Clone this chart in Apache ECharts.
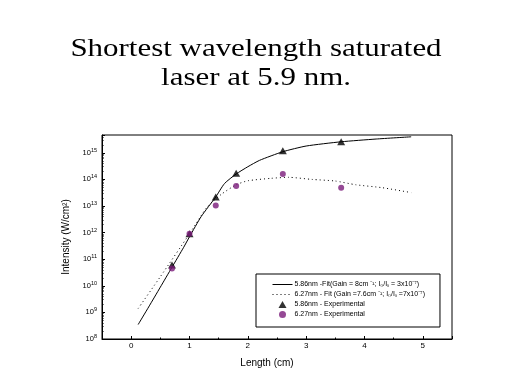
<!DOCTYPE html>
<html>
<head>
<meta charset="utf-8">
<script src="https://cdn.jsdelivr.net/npm/echarts@6/dist/echarts.min.js"></script>
<style>
html,body{margin:0;padding:0;background:#fff;}
#c{width:512px;height:384px;}
</style>
</head>
<body>
<div id="c"></div>
<script>
// ---- data ----
var fit1X = [0.12, 0.3, 0.5, 0.7, 0.9, 1.0, 1.2, 1.45, 1.6, 1.8, 2.0, 2.2, 2.6, 3.0, 3.6, 4.2, 4.8];
var fit1Y = [3.5e8, 1.6e9, 8.9e9, 5e10, 2.8e11, 7e11, 4e12, 2.2e13, 7e13, 1.6e14, 3e14, 5.2e14, 1.1e15, 1.8e15, 2.6e15, 3.3e15, 4e15];
var fit2X = [0.12, 0.5, 1.0, 1.3, 1.55, 1.8, 2.0, 2.4, 2.7, 3.1, 3.5, 3.85, 4.3, 4.8];
var fit2Y = [1.4e9, 2.2e10, 9e11, 9e12, 2.8e13, 6.3e13, 8.9e13, 1.1e14, 1.2e14, 1e14, 8.7e13, 6.3e13, 4.9e13, 3.2e13];
var expX = [0.7, 1.0, 1.45, 1.8, 2.6, 3.6];
var exp1Y = [6e10, 9e11, 2.2e13, 1.7e14, 1.2e15, 2.6e15];
var exp2Y = [4.5e10, 9e11, 1.05e13, 5.6e13, 1.6e14, 4.9e13];
var seriesNames = [
  '5.86nm -Fit(Gain = 8cm \u207B\u00B9; I\u2080/I\u209B = 3x10\u207B\u2077)',
  '6.27nm - Fit (Gain =7.6cm \u207B\u00B9; I\u2080/I\u209B =7x10\u207B\u2077)',
  '5.86nm - Experimental',
  '6.27nm - Experimental'
];
var titleLines = ['Shortest wavelength saturated', 'laser at 5.9 nm.'];

function zip(xs, ys) { return xs.map(function (x, i) { return [x, ys[i]]; }); }

var hidden = {color: 'rgba(0,0,0,0)', borderColor: 'rgba(0,0,0,0)', opacity: 0};

var chart = echarts.init(document.getElementById('c'), null, {renderer: 'canvas'});
chart.setOption({
  animation: false,
  backgroundColor: '#fff',
  graphic: [{
    type: 'text',
    x: 256, y: 34,
    scaleX: 1.19,
    style: {
      text: titleLines.join('\n'),
      font: '26px "Liberation Serif"',
      fill: '#000',
      align: 'center',
      verticalAlign: 'top',
      lineHeight: 29.5
    }
  }],
  grid: {left: 102, top: 135, right: 60, bottom: 45, show: true, borderColor: '#000', borderWidth: 1, backgroundColor: 'transparent'},
  legend: {
    orient: 'vertical',
    left: 256,
    top: 274,
    padding: [7, 15, 9, 16],
    itemGap: 3,
    itemWidth: 20,
    itemHeight: 7,
    symbolKeepAspect: true,
    borderColor: '#000',
    borderWidth: 1,
    selectedMode: false,
    data: [
      {name: seriesNames[0], itemStyle: hidden, lineStyle: {width: 1, color: '#000'}},
      {name: seriesNames[1], itemStyle: hidden, lineStyle: {width: 1, color: '#000', type: [1, 3]}},
      {name: seriesNames[2], icon: 'path://M4,0L8,7L0,7Z'},
      {name: seriesNames[3], icon: 'circle'}
    ],
    textStyle: {fontFamily: 'Liberation Sans', fontSize: 7, color: '#000', padding: [0, 0, 0, -3]}
  },
  xAxis: {
    type: 'value',
    min: -0.5, max: 5.5, splitNumber: 6,
    name: 'Length (cm)',
    nameLocation: 'middle',
    nameGap: 19,
    nameTextStyle: {fontFamily: 'Liberation Sans', fontSize: 10, color: '#000', padding: [0, 20, 0, 0]},
    axisLine: {onZero: false, lineStyle: {color: '#000', width: 1}},
    axisTick: {inside: true, length: 3, lineStyle: {color: '#000'}},
    minorTick: {show: true, splitNumber: 2, length: 1.5, lineStyle: {color: '#000'}},
    axisLabel: {
      fontFamily: 'Liberation Sans', fontSize: 8, color: '#000', margin: 3, showMinLabel: false, showMaxLabel: false,
      formatter: function (v) { return Math.abs(v - Math.round(v)) < 1e-6 ? String(Math.round(v)) : ''; }
    },
    splitLine: {show: false}
  },
  yAxis: {
    type: 'log',
    logBase: 10,
    min: 1e8,
    max: Math.pow(10, 15.67),
    name: 'Intensity (W/cm\u00B2)',
    nameLocation: 'middle',
    nameGap: 31,
    nameTextStyle: {fontFamily: 'Liberation Sans', fontSize: 10, color: '#000'},
    axisLine: {show: true, onZero: false, lineStyle: {color: '#000', width: 1}},
    axisTick: {inside: true, length: 3, lineStyle: {color: '#000'}},
    minorTick: {show: true, splitNumber: 9, length: 1.5, lineStyle: {color: '#000'}},
    axisLabel: {
      fontFamily: 'Liberation Sans', fontSize: 7.5, color: '#000', margin: 5,
      formatter: function (v) {
        var e = Math.log10(v);
        if (Math.abs(e - Math.round(e)) > 1e-6) return '';
        return '10{s|' + Math.round(e) + '}';
      },
      rich: {s: {fontSize: 5.5, verticalAlign: 'top', padding: [0, 0, 5, 0], fontFamily: 'Liberation Sans', color: '#000'}}
    },
    splitLine: {show: false}
  },
  series: [
    {
      name: seriesNames[0], type: 'line', data: zip(fit1X, fit1Y), smooth: 0.2, symbol: 'none',
      lineStyle: {color: '#000', width: 1, type: 'solid'}, itemStyle: {color: '#000'}, z: 2
    },
    {
      name: seriesNames[1], type: 'line', data: zip(fit2X, fit2Y), smooth: 0.2, symbol: 'none',
      lineStyle: {color: '#000', width: 1, type: [1, 3]}, itemStyle: {color: '#000'}, z: 2
    },
    {
      name: seriesNames[2], type: 'scatter', data: zip(expX, exp1Y), symbol: 'triangle', symbolSize: [8, 7],
      symbolKeepAspect: true, itemStyle: {color: '#000'}, z: 3
    },
    {
      name: seriesNames[3], type: 'scatter', data: zip(expX, exp2Y), symbol: 'circle', symbolSize: 6,
      itemStyle: {color: '#7a1b7a'}, z: 4
    }
  ]
});
</script>
</body>
</html>
